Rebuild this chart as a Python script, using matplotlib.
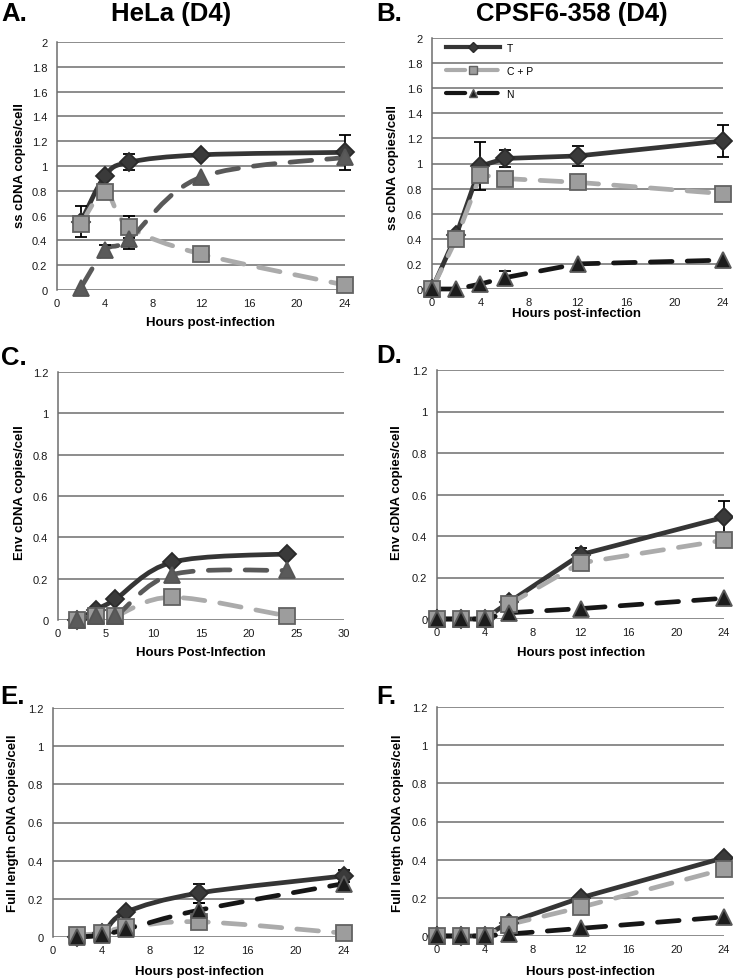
import matplotlib
matplotlib.use('Agg')
import matplotlib.pyplot as plt
from matplotlib.path import Path
from matplotlib.patches import PathPatch
from matplotlib.lines import Line2D
import numpy as np

plt.rcParams['font.family'] = ['Liberation Sans', 'DejaVu Sans']

W, H = 733, 979

# ---- data ----
hela_x = [2, 4, 6, 12, 24]
cpsf_x = [0, 2, 4, 6, 12, 24]

# A. HeLa, ss cDNA
a_t = [0.55, 0.92, 1.03, 1.09, 1.11]
a_t_err = [0.125, 0, 0.065, 0.02, 0.14]
a_cp = [0.53, 0.79, 0.51, 0.29, 0.04]
a_cp_err = [0, 0, 0.09, 0, 0]
a_n = [0.02, 0.32, 0.41, 0.91, 1.07]
a_n_err = [0, 0.04, 0.08, 0, 0]

# B. CPSF6-358, ss cDNA
b_t = [0.0, 0.43, 0.98, 1.04, 1.06, 1.18]
b_t_err = [0, 0, 0.19, 0.07, 0.08, 0.125]
b_cp = [0.0, 0.40, 0.91, 0.88, 0.85, 0.76]
b_n = [0.0, 0.0, 0.04, 0.09, 0.20, 0.23]
b_n_err = [0, 0, 0, 0.05, 0, 0]

# C. HeLa, Env cDNA
c_t = [0.0, 0.05, 0.10, 0.28, 0.32]
c_cp = [0.0, 0.02, 0.02, 0.11, 0.02]
c_n = [0.0, 0.02, 0.02, 0.22, 0.24]

# D. CPSF6-358, Env cDNA
d_t = [0.0, 0.0, 0.0, 0.08, 0.31, 0.49]
d_t_err = [0, 0, 0, 0.02, 0.03, 0.08]
d_cp = [0.0, 0.0, 0.0, 0.07, 0.27, 0.38]
d_n = [0.0, 0.0, 0.0, 0.03, 0.05, 0.10]

# E. HeLa, full length cDNA
e_t = [0.0, 0.02, 0.13, 0.23, 0.32]
e_t_err = [0, 0, 0, 0.05, 0.03]
e_cp = [0.01, 0.02, 0.05, 0.08, 0.02]
e_n = [0.0, 0.01, 0.04, 0.14, 0.28]
e_n_err = [0, 0, 0, 0.04, 0]

# F. CPSF6-358, full length cDNA
f_t = [0.0, 0.0, 0.0, 0.07, 0.20, 0.41]
f_cp = [0.0, 0.0, 0.0, 0.06, 0.15, 0.35]
f_n = [0.0, 0.0, 0.0, 0.01, 0.04, 0.10]

# ---- styles ----
grid_c = '#6e6e6e'
t_style = dict(color='#353535', mfc='#3a3a3a', mec='#2a2a2a', marker='D', ms=9.5)
cp_style = dict(color='#ababab', mfc='#9d9d9d', mec='#626262', marker='s', ms=11)
n_gray = dict(color='#595959', mfc='#5a5a5a', mec='#555555', marker='^', ms=11)
n_black = dict(color='#161616', mfc='#1c1c1c', mec='#5a5a5a', marker='^', ms=11)
DASH = (0, (4.6, 3.2))

fig = plt.figure(figsize=(W / 100, H / 100), dpi=100)


def px_axes(l, t, r, b):
    return fig.add_axes([l / W, 1 - b / H, (r - l) / W, (b - t) / H])


def ftext(x, y, s, **kw):
    fig.text(x / W, 1 - y / H, s, **kw)


def smooth_path(x, y):
    p = np.column_stack([x, y]).astype(float)
    verts = [p[0]]
    codes = [Path.MOVETO]
    n = len(p)
    for i in range(n - 1):
        p0 = p[max(i - 1, 0)]
        p1, p2 = p[i], p[i + 1]
        p3 = p[min(i + 2, n - 1)]
        verts += [p1 + (p2 - p0) / 6, p2 - (p3 - p1) / 6, p2]
        codes += [Path.CURVE4] * 3
    return Path(verts, codes)


def series(ax, x, y, st, dashed=False, smooth=False, err=None, lw=3.4):
    ls = DASH if dashed else '-'
    if smooth:
        patch = PathPatch(smooth_path(x, y), fill=False, edgecolor=st['color'],
                          lw=lw, linestyle=ls, capstyle='round', joinstyle='round',
                          zorder=3, clip_on=False)
        ax.add_patch(patch)
    else:
        ax.plot(x, y, color=st['color'], lw=lw, ls=ls, dash_capstyle='round',
                solid_capstyle='round', zorder=3, clip_on=False)
    if err is not None:
        idx = [i for i, e in enumerate(err) if e > 0]
        if idx:
            ax.errorbar([x[i] for i in idx], [y[i] for i in idx],
                        yerr=[err[i] for i in idx], fmt='none', ecolor='black',
                        elinewidth=1.3, capsize=4, capthick=1.3, zorder=4,
                        clip_on=False)
    ax.plot(x, y, ls='none', marker=st['marker'], ms=st['ms'], mfc=st['mfc'],
            mec=st['mec'], mew=1.3, zorder=5, clip_on=False)


def setup(ax, xmax, xstep, ymax):
    ax.set_xlim(0, xmax)
    ax.set_ylim(0, ymax)
    ax.set_xticks(np.arange(0, xmax + 0.1, xstep))
    ax.set_yticks(np.round(np.arange(0, ymax + 0.01, 0.2), 1))
    ax.yaxis.set_major_formatter(lambda v, p: f'{v:g}')
    ax.grid(axis='y', color=grid_c, lw=1.1)
    ax.set_axisbelow(True)
    for s in ['top', 'right', 'bottom']:
        ax.spines[s].set_visible(False)
    ax.spines['left'].set_color(grid_c)
    ax.spines['left'].set_linewidth(1.1)
    ax.tick_params(length=0, labelsize=8, colors='#1a1a1a')
    ax.tick_params(axis='x', pad=6)
    ax.tick_params(axis='y', pad=7)


# ---- panels ----
axA = px_axes(57, 43, 345, 291)
setup(axA, 24, 4, 2.0)
series(axA, hela_x, a_t, t_style, smooth=True, err=a_t_err)
series(axA, hela_x, a_cp, cp_style, dashed=True, smooth=True, err=a_cp_err)
series(axA, hela_x, a_n, n_gray, dashed=True, smooth=True, err=a_n_err)

axB = px_axes(432, 39, 723, 290)
setup(axB, 24, 4, 2.0)
series(axB, cpsf_x, b_t, t_style, err=b_t_err)
series(axB, cpsf_x, b_cp, cp_style, dashed=True)
series(axB, cpsf_x, b_n, n_black, dashed=True, err=b_n_err)
handles = [
    Line2D([], [], color=t_style['color'], lw=3, marker='D', ms=5,
           mfc=t_style['mfc'], mec=t_style['mec']),
    Line2D([], [], color=cp_style['color'], lw=3, ls=DASH, marker='s', ms=6,
           mfc=cp_style['mfc'], mec=cp_style['mec'], dash_capstyle='round'),
    Line2D([], [], color=n_black['color'], lw=3, ls=DASH, marker='^', ms=6,
           mfc=n_black['mfc'], mec=n_black['mec'], dash_capstyle='round'),
]
axB.legend(handles, ['T', 'C + P', 'N'], loc='upper left', frameon=False,
           fontsize=7.5, handlelength=5.2, handletextpad=0.6, labelspacing=1.25,
           bbox_to_anchor=(0.02, 1.015), borderaxespad=0.4)

axC = px_axes(58, 373, 344, 621)
setup(axC, 30, 5, 1.2)
series(axC, hela_x, c_t, t_style, smooth=True)
series(axC, hela_x, c_cp, cp_style, dashed=True, smooth=True)
series(axC, hela_x, c_n, n_gray, dashed=True, smooth=True)

axD = px_axes(437, 371, 724, 620)
setup(axD, 24, 4, 1.2)
series(axD, cpsf_x, d_t, t_style, err=d_t_err)
series(axD, cpsf_x, d_cp, cp_style, dashed=True)
series(axD, cpsf_x, d_n, n_black, dashed=True)

axE = px_axes(53, 709, 344, 938)
setup(axE, 24, 4, 1.2)
series(axE, hela_x, e_t, t_style, smooth=True, err=e_t_err)
series(axE, hela_x, e_cp, cp_style, dashed=True, smooth=True)
series(axE, hela_x, e_n, n_black, dashed=True, smooth=True, err=e_n_err)

axF = px_axes(437, 708, 724, 937)
setup(axF, 24, 4, 1.2)
series(axF, cpsf_x, f_t, t_style)
series(axF, cpsf_x, f_cp, cp_style, dashed=True)
series(axF, cpsf_x, f_n, n_black, dashed=True)

# ---- titles, panel letters, axis labels ----
big = dict(fontsize=18.5, fontweight='bold', va='center')
ftext(1, 14, 'A.', ha='left', **big)
ftext(171, 14, 'HeLa (D4)', ha='center', **big)
ftext(376, 14, 'B.', ha='left', **big)
ftext(572, 14, 'CPSF6-358 (D4)', ha='center', **big)
ftext(1, 358, 'C.', ha='left', **big)
ftext(376, 356, 'D.', ha='left', **big)
ftext(0, 697, 'E.', ha='left', **big)
ftext(376, 697, 'F.', ha='left', **big)

lab = dict(fontsize=9.5, fontweight='bold', ha='center', va='center')
ftext(211, 323, 'Hours post-infection', **lab)
ftext(577, 314, 'Hours post-infection', **lab)
ftext(201, 653, 'Hours Post-Infection', **lab)
ftext(581, 653, 'Hours post infection', **lab)
ftext(199, 972, 'Hours post-infection', **lab)
ftext(591, 972, 'Hours post-infection', **lab)

ftext(20, 166, 'ss cDNA copies/cell', rotation=90, **lab)
ftext(393, 168, 'ss cDNA copies/cell', rotation=90, **lab)
ftext(20, 493, 'Env cDNA copies/cell', rotation=90, **lab)
ftext(397, 493, 'Env cDNA copies/cell', rotation=90, **lab)
ftext(13, 823, 'Full length cDNA copies/cell', rotation=90, **lab)
ftext(398, 823, 'Full length cDNA copies/cell', rotation=90, **lab)

fig.savefig('out.png', dpi=100)
